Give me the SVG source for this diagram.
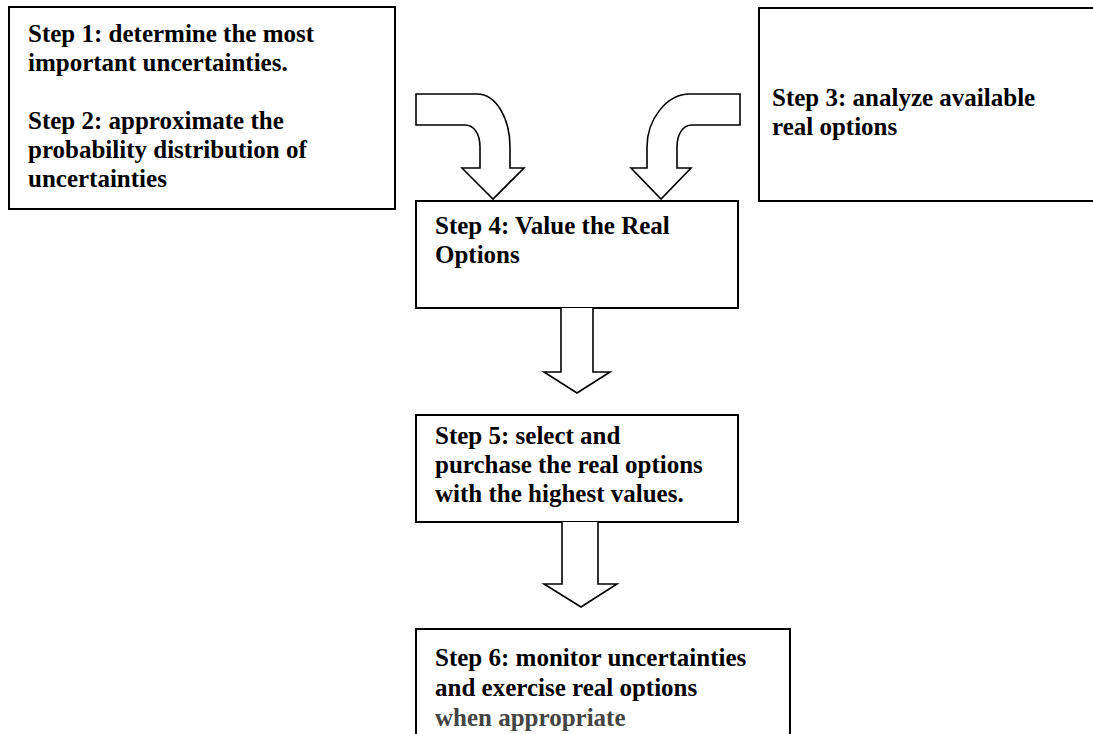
<svg xmlns="http://www.w3.org/2000/svg" width="1093" height="734" viewBox="0 0 1093 734">
<style>
.box{fill:#fff;stroke:#000;stroke-width:2}
.arr{fill:#fff;stroke:#000;stroke-width:1.6;stroke-linejoin:miter}
text{font-family:"Liberation Serif","Times New Roman",serif;font-weight:bold;font-size:25px;fill:#000}
.grey{fill:#444}
</style>
<rect width="1093" height="734" fill="#fff"/>
<g id="node-step12">
<rect class="box" x="9" y="7" width="386" height="202"/>
<text x="28" y="42">Step 1: determine the most</text>
<text x="28" y="71">important uncertainties.</text>
<text x="28" y="129">Step 2: approximate the</text>
<text x="28" y="158">probability distribution of</text>
<text x="28" y="187">uncertainties</text>
</g>
<g id="node-step3">
<rect class="box" x="759" y="8" width="345" height="193"/>
<text x="772" y="106">Step 3: analyze available</text>
<text x="772" y="135">real options</text>
</g>
<g id="node-step4">
<rect class="box" x="416" y="201" width="322" height="107"/>
<text x="435" y="234">Step 4: Value the Real</text>
<text x="435" y="263">Options</text>
</g>
<g id="node-step5">
<rect class="box" x="416" y="415" width="322" height="107"/>
<text x="435" y="444">Step 5: select and</text>
<text x="435" y="473">purchase the real options</text>
<text x="435" y="502">with the highest values.</text>
</g>
<g id="node-step6">
<rect class="box" x="416" y="629" width="374" height="120"/>
<text x="435" y="666">Step 6: monitor uncertainties</text>
<text x="435" y="696">and exercise real options</text>
<text x="435" y="726" class="grey">when appropriate</text>
</g>
<g id="connectors">
<path class="arr" d="M416,94 L477,94 C497,94 510,120 510,147 L510,168 L524,168 L493,199 L462,168 L480,168 L480,147 C480,134 474,125 465,125 L416,125 Z"/>
<path class="arr" d="M740,94 L690,94 C666,94 647,120 647,147 L647,168 L631,168 L661,199 L691,168 L677,168 L677,147 C677,134 683,125 692,125 L740,125 Z"/>
<path class="arr" d="M561,308 L561,372 L544,372 L577,393 L610,372 L593,372 L593,308"/>
<path class="arr" d="M562,522 L562,584 L544,584 L581,607 L617,584 L598,584 L598,522"/>
</g>
</svg>
